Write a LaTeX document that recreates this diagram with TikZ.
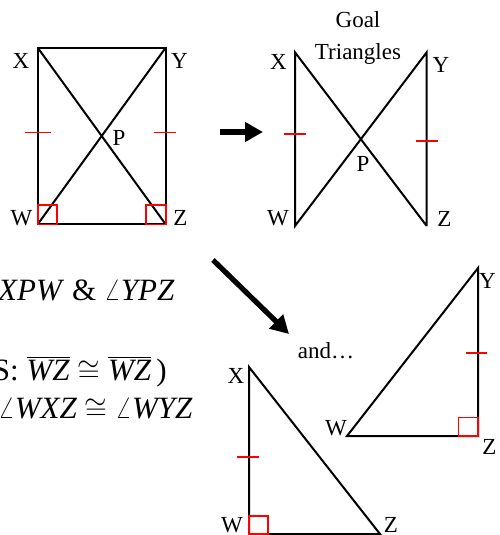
\documentclass[tikz,border=0pt]{standalone}
\usepackage{fontspec}
\setmainfont{Liberation Serif}
\usetikzlibrary{arrows.meta,calc}
\tikzset{
  seg/.style={line width=1pt},
  eqtick/.style={red,line width=0.8pt},
  rtang/.style={red,line width=0.8pt},
  lbl/.style={inner sep=0pt,font=\fontsize{11.5}{13}\selectfont},
  bigarrow/.style={line width=2.6pt,-{Triangle[length=9pt,width=9.5pt]}},
  reason/.style={anchor=base east,inner sep=0pt,font=\fontsize{15.5}{18}\selectfont}
}
\begin{document}
\begin{tikzpicture}[x=0.5pt,y=-0.5pt]
  \useasboundingbox (0,0) rectangle (499,535);
  \clip (0,0) rectangle (499,535);
  % rectangle with both diagonals
  \coordinate (X1) at (37.7,47.7);  \coordinate (Y1) at (165.7,47.7);
  \coordinate (W1) at (37.7,224.3); \coordinate (Z1) at (165.7,224.3);
  \draw[seg] (X1) -- (Y1) -- (Z1) -- (W1) -- cycle;
  \draw[seg] (X1) -- (Z1) (Y1) -- (W1);
  \draw[rtang] (W1) rectangle ++(19.5,-19.5);
  \draw[rtang] (Z1) rectangle ++(-19.5,-19.5);
  \draw[eqtick] ($(X1)!.48!(W1)$) +(-13,0) -- +(13,0);
  \draw[eqtick] ($(Y1)!.48!(Z1)$) +(-12,0) -- +(10,0);
  \node[lbl] (lX1) at (21,60.5) {X};
  \node[lbl] (lY1) at (179.5,61) {Y};
  \node[lbl] (lP1) at (119,138) {P};
  \node[lbl] (lW1) at (21.5,218) {W};
  \node[lbl] (lZ1) at (180.5,218) {Z};

  % the two goal triangles
  \coordinate (X2) at (295,52.3);  \coordinate (Y2) at (426.7,52.3);
  \coordinate (W2) at (295,226);   \coordinate (Z2) at (426.7,226);
  \draw[seg] (Z2) -- (X2) -- (W2) -- (Y2) -- (Z2);
  \draw[eqtick] ($(X2)!.47!(W2)$) +(-11,0) -- +(11,0);
  \draw[eqtick] ($(Y2)!.51!(Z2)$) +(-11,0) -- +(11,0);
  \node[lbl] (lX2) at (278.5,62) {X};
  \node[lbl] (lY2) at (441,65) {Y};
  \node[lbl] (lP2) at (363,164) {P};
  \node[lbl] (lW2) at (278,218.5) {W};
  \node[lbl] (lZ2) at (444.5,219) {Z};
  \node[lbl,anchor=base] (goal) at (358,28) {Goal};
  \node[lbl,anchor=base] (tri) at (358,60) {Triangles};

  % arrows
  \coordinate (a1) at (220,132); \coordinate (a2) at (263,132);
  \draw[bigarrow] (a1) -- (a2);
  \coordinate (b1) at (213,260); \coordinate (b2) at (289,334);
  \draw[bigarrow] (b1) -- (b2);
  \node[lbl,anchor=base] (andd) at (326,358) {and…};

  % triangle WZY
  \coordinate (W3) at (347,436); \coordinate (Z3) at (478,436);
  \coordinate (Y3) at (478,268);
  \draw[seg] (W3) -- (Z3) -- (Y3) -- cycle;
  \draw[rtang] (Z3) rectangle ++(-19.5,-18.5);
  \draw[eqtick] ($(Y3)!.506!(Z3)$) +(-12,0) -- +(9,0);
  \node[lbl] (lY3) at (487.5,281) {Y};
  \node[lbl] (lW3) at (336,428) {W};
  \node[lbl] (lZ3) at (489.5,447) {Z};

  % triangle XWZ
  \coordinate (X4) at (249,367); \coordinate (W4) at (249,534);
  \coordinate (Z4) at (380,534);
  \draw[seg] (X4) -- (W4) -- (Z4) -- cycle;
  \draw[rtang] (W4) rectangle ++(19,-18);
  \draw[eqtick] ($(X4)!.54!(W4)$) +(-12,0) -- +(10,0);
  \node[lbl] (lX4) at (236,375.5) {X};
  \node[lbl] (lW4) at (232,525) {W};
  \node[lbl] (lZ4) at (391,525) {Z};

  % reasons on the left
  \node[reason] (angs) at (175,300) {$\angle$\textit{XPW} \& $\angle$\textit{YPZ}};
  \node[reason] (side) at (167,380) {S: $\overline{\mbox{\itshape WZ}}\cong\overline{\mbox{\itshape WZ}}$\,)};
  \node[reason] (conc) at (193,418) {$\angle$\textit{WXZ} $\cong$ $\angle$\textit{WYZ}};
\end{tikzpicture}
\end{document}
